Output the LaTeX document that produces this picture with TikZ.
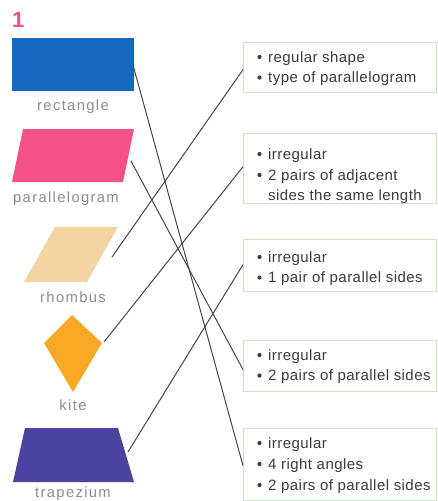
\documentclass[tikz,border=0pt]{standalone}
\usepackage{fontspec}
\setmainfont{Liberation Sans}
\newfontfamily\labelfont[LetterSpace=9]{Liberation Sans}
\newfontfamily\boxfont[LetterSpace=3]{Liberation Sans}
\definecolor{rectblue}{RGB}{22,104,190}
\definecolor{parpink}{RGB}{246,82,138}
\definecolor{rhotan}{RGB}{244,212,162}
\definecolor{kiteorange}{RGB}{249,168,38}
\definecolor{trappurple}{RGB}{76,66,160}
\definecolor{labelgray}{RGB}{140,140,140}
\definecolor{boxgreen}{RGB}{204,228,190}
\definecolor{textgray}{RGB}{60,60,60}
\definecolor{linegray}{RGB}{70,70,70}
\definecolor{numpink}{RGB}{240,80,138}
\begin{document}
\begin{tikzpicture}[x=1pt,y=-1pt,
  shapelabel/.style={anchor=base,inner sep=0pt,text=labelgray,font=\fontsize{14.8}{17}\labelfont},
  infobox/.style={draw=boxgreen,line width=1.3pt,fill=white,anchor=north west,inner sep=0pt},
  boxline/.style={anchor=base west,inner sep=0pt,text=textgray,font=\fontsize{15}{18}\boxfont},
  bulletdot/.style={circle,fill=textgray,inner sep=0pt,minimum size=4.2pt},
  connector/.style={draw=linegray,line width=1pt}]
\useasboundingbox (0,0) rectangle (438,501);
% number
\node[anchor=base west,inner sep=0pt,text=numpink,font=\fontsize{22}{24}\selectfont\bfseries] (num) at (12,27) {1};
% shapes
\fill[rectblue] (12,38) rectangle (134,91);
\fill[parpink] (23,129) -- (134,129) -- (123,182) -- (12,182) -- cycle;
\fill[rhotan] (55,227) -- (118,227) -- (87,282) -- (24,282) -- cycle;
\fill[kiteorange] (72,315) -- (102,343) -- (73,392) -- (44,343) -- cycle;
\fill[trappurple] (25,428) -- (118,428) -- (134,482) -- (13,482) -- cycle;
% labels
\node[shapelabel] (lrect) at (73,110) {rectangle};
\node[shapelabel] (lpar) at (66,202) {parallelogram};
\node[shapelabel] (lrho) at (73,302) {rhombus};
\node[shapelabel] (lkite) at (73,410) {kite};
\node[shapelabel] (ltrap) at (73,497.5) {trapezium};
% connector start points
\coordinate (rectR) at (133,65);
\coordinate (parR) at (131,161);
\coordinate (rhoR) at (112,257);
\coordinate (kiteR) at (104,342);
\coordinate (trapR) at (128,452);
% boxes
\node[infobox,minimum width=193pt,minimum height=50pt] (b1) at (243,42) {};
\node[infobox,minimum width=193pt,minimum height=70pt] (b2) at (243,133) {};
\node[infobox,minimum width=193pt,minimum height=52pt] (b3) at (243,239) {};
\node[infobox,minimum width=193pt,minimum height=51pt] (b4) at (243,340) {};
\node[infobox,minimum width=193pt,minimum height=72pt] (b5) at (243,428) {};
% box texts
\foreach \y/\t [count=\i] in {62/regular shape, 82.5/type of parallelogram,
  159/irregular, 180/2 pairs of adjacent,
  262/irregular, 282.5/1 pair of parallel sides,
  360/irregular, 380.5/2 pairs of parallel sides,
  448/irregular, 469/4 right angles, 490/2 pairs of parallel sides}{
  \node[bulletdot] (d\i) at (259.5,\y-5) {};
  \node[boxline] (t\i) at (268,\y) {\t};
}
\node[boxline] (t2c) at (268,200.5) {sides the same length};
% connectors
\draw[connector] (rectR) -- ([yshift=-1pt]b5.west);
\draw[connector] (parR) -- ([yshift=-3.5pt]b4.west);
\draw[connector] (rhoR) -- ([yshift=-2pt]b1.west);
\draw[connector] (kiteR) -- ([yshift=2pt]b2.west);
\draw[connector] (trapR) -- ([yshift=1pt]b3.west);
\end{tikzpicture}
\end{document}
